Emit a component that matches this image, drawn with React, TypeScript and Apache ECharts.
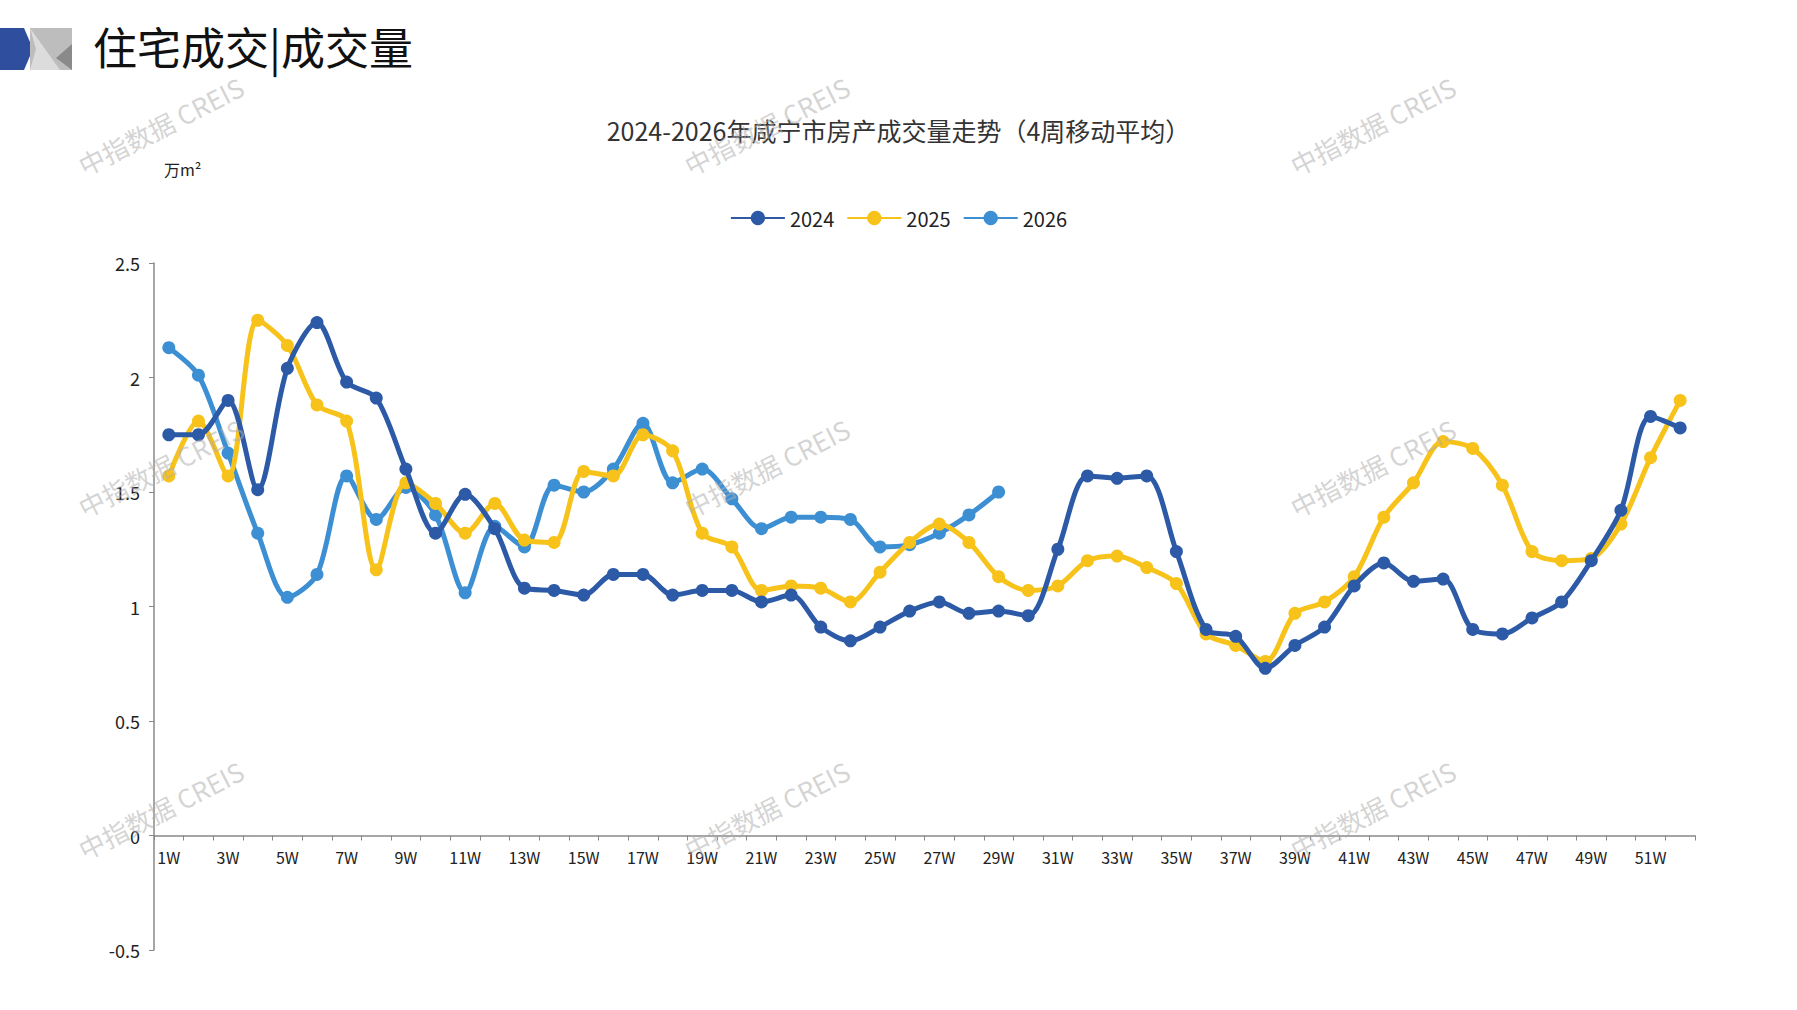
import { useEffect, useRef } from 'react';
import * as echarts from 'echarts';

const weeks = Array.from({ length: 52 }, (_, i) => `${i + 1}W`);

const y2024 = [1.75, 1.75, 1.9, 1.51, 2.04, 2.24, 1.98, 1.91, 1.6, 1.32, 1.49, 1.34, 1.08, 1.07, 1.05, 1.14, 1.14, 1.05, 1.07, 1.07,
  1.02, 1.05, 0.91, 0.85, 0.91, 0.98, 1.02, 0.97, 0.98, 0.96, 1.25, 1.57, 1.56, 1.57, 1.24, 0.9, 0.87, 0.73, 0.83, 0.91,
  1.09, 1.19, 1.11, 1.12, 0.9, 0.88, 0.95, 1.02, 1.2, 1.42, 1.83, 1.78];
const y2025 = [1.57, 1.81, 1.57, 2.25, 2.14, 1.88, 1.81, 1.16, 1.54, 1.45, 1.32, 1.45, 1.29, 1.28, 1.59, 1.57, 1.75, 1.68, 1.32, 1.26,
  1.07, 1.09, 1.08, 1.02, 1.15, 1.28, 1.36, 1.28, 1.13, 1.07, 1.09, 1.2, 1.22, 1.17, 1.1, 0.88, 0.83, 0.76, 0.97, 1.02,
  1.13, 1.39, 1.54, 1.72, 1.69, 1.53, 1.24, 1.2, 1.21, 1.36, 1.65, 1.9];
const y2026 = [2.13, 2.01, 1.67, 1.32, 1.04, 1.14, 1.57, 1.38, 1.52, 1.4, 1.06, 1.35, 1.26, 1.53, 1.5, 1.6, 1.8, 1.54, 1.6, 1.47,
  1.34, 1.39, 1.39, 1.38, 1.26, 1.27, 1.32, 1.4, 1.5];

const seriesNames = ['2024', '2025', '2026'];
const seriesColors = ['#2d5aa6', '#f7c21a', '#3d8fd3'];

const watermarkSpots = [
  [74, 155], [680, 155], [1286, 155],
  [74, 497], [680, 497], [1286, 497],
  [74, 839], [680, 839], [1286, 839],
];

export default function App() {
  const chartRef = useRef<HTMLDivElement>(null);

  useEffect(() => {
    if (!chartRef.current) return;
    const chart = echarts.init(chartRef.current, undefined, { renderer: 'svg' });
    const font = '"Noto Sans CJK SC", "Noto Sans", sans-serif';

    const watermarks = watermarkSpots.map(([x, y]) => ({
      type: 'text',
      x,
      y,
      rotation: (27 * Math.PI) / 180,
      z: 100,
      style: { text: '中指数据 CREIS', fill: 'rgba(175,175,175,0.55)', font: `26px ${font}` },
    }));

    chart.setOption({
      animation: false,
      backgroundColor: '#fff',
      title: {
        text: '2024-2026年咸宁市房产成交量走势（4周移动平均）',
        left: 'center',
        top: 112,
        textStyle: { fontSize: 25, fontWeight: 'normal', color: '#333', fontFamily: font },
      },
      legend: {
        data: seriesNames,
        top: 203,
        left: 'center',
        itemWidth: 54,
        itemHeight: 18,
        itemGap: 12,
        textStyle: { fontSize: 20, color: '#222', fontFamily: font },
      },
      graphic: [
        { type: 'polygon', shape: { points: [[0, 28], [24, 28], [33, 49], [24, 70], [0, 70]] }, style: { fill: '#2f4f9e' } },
        { type: 'rect', shape: { x: 30, y: 28, width: 42, height: 42 }, style: { fill: '#bdbdbd' } },
        { type: 'polygon', shape: { points: [[30, 28], [60, 70], [30, 70], [36, 49]] }, style: { fill: '#dcdcdc' } },
        { type: 'polygon', shape: { points: [[72, 44], [72, 70], [56, 58]] }, style: { fill: '#8a8a8a' } },
        {
          type: 'text', left: 93, top: 24,
          style: { text: '住宅成交|成交量', fill: '#111', font: `44px "Noto Sans CJK SC", serif` },
        },
        {
          type: 'text', left: 164, top: 161,
          style: { text: '万m²', fill: '#222', font: `16px ${font}` },
        },
        ...watermarks,
      ],
      grid: { left: 154, right: 102, top: 263, bottom: 60 },
      xAxis: {
        type: 'category',
        data: weeks,
        boundaryGap: true,
        axisLine: { onZero: true, lineStyle: { color: '#888', width: 1.5 } },
        axisTick: { show: true, interval: 0, length: 5, lineStyle: { color: '#888' } },
        axisLabel: { interval: 1, color: '#222', fontSize: 16, fontFamily: font, margin: -101 },
      },
      yAxis: {
        type: 'value',
        min: -0.5,
        max: 2.5,
        interval: 0.5,
        splitLine: { show: false },
        axisLine: { show: true, lineStyle: { color: '#888', width: 1.5 } },
        axisTick: { show: true, length: 5, lineStyle: { color: '#888' } },
        axisLabel: { color: '#222', fontSize: 18, fontFamily: font, margin: 14 },
      },
      series: [y2024, y2025, y2026].map((d, i) => ({
        name: seriesNames[i],
        type: 'line',
        data: d,
        smooth: 0.3,
        symbol: 'circle',
        symbolSize: 13,
        lineStyle: { width: 5, color: seriesColors[i] },
        itemStyle: { color: seriesColors[i] },
        z: 3 - i,
      })),
    });
    return () => chart.dispose();
  }, []);

  return <div ref={chartRef} style={{ position: 'absolute', left: 0, top: 0, width: 1797, height: 1010 }} />;
}
